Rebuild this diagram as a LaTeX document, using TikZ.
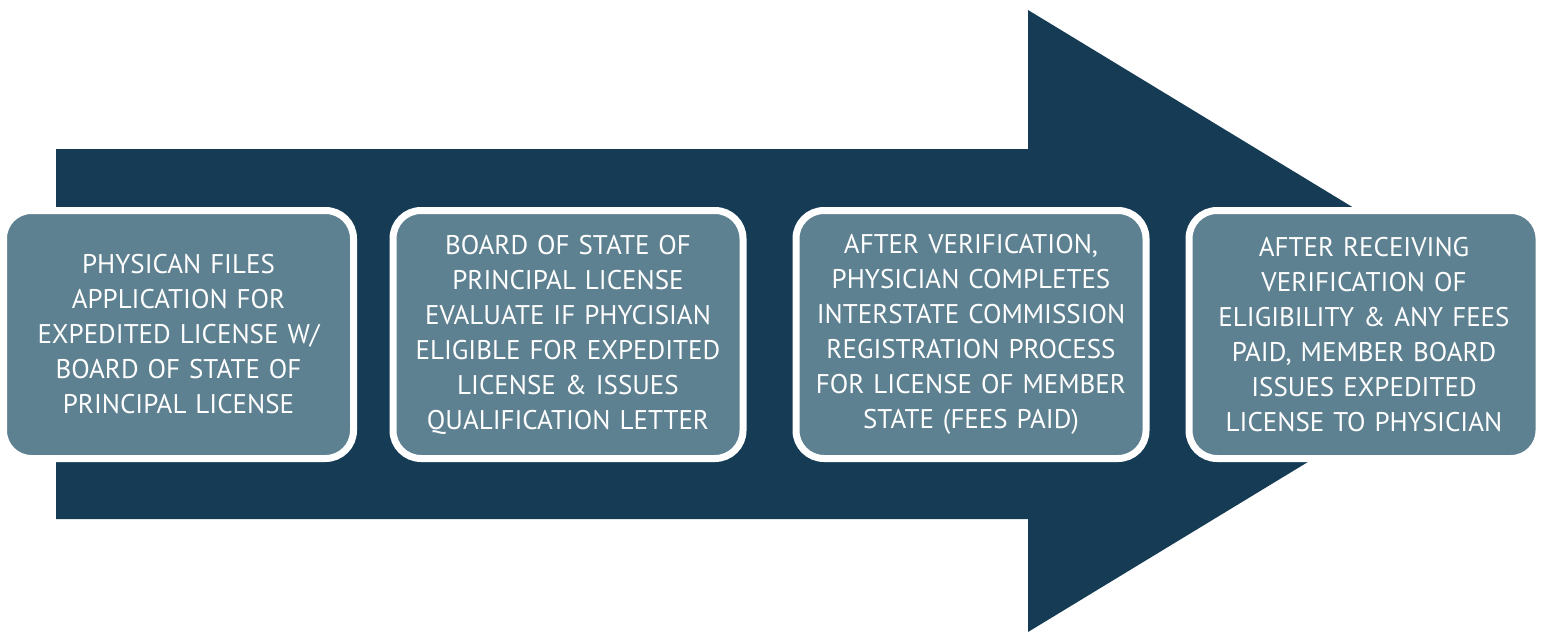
\documentclass[tikz,border=0pt]{standalone}
\usepackage{fontspec}
\setmainfont{PT Sans}
\definecolor{navy}{HTML}{163C55}
\definecolor{boxfill}{HTML}{5E8191}
\begin{document}
\begin{tikzpicture}[x=1pt,y=-1pt,
  stepbox/.style={rectangle, rounded corners=28pt, fill=boxfill, draw=white, line width=7pt,
    minimum width=350pt, minimum height=248pt, inner sep=0pt, text width=340pt, align=center,
    text=white, font=\fontsize{27}{35}\selectfont}]
\useasboundingbox (0,0) rectangle (1541,632);
\fill[navy] (56,149) -- (1028,149) -- (1028,10) -- (1540,321) -- (1028,632) -- (1028,519) -- (56,519) -- cycle;
\node[stepbox] (s1) at (178.5,334.5) {PHYSICAN FILES\\APPLICATION FOR\\EXPEDITED LICENSE W/\\BOARD OF STATE OF\\PRINCIPAL LICENSE};
\node[stepbox] (s2) at (568,334.5) {BOARD OF STATE OF\\PRINCIPAL LICENSE\\EVALUATE IF PHYCISIAN\\ELIGIBLE FOR EXPEDITED\\LICENSE \& ISSUES\\QUALIFICATION LETTER};
\node[stepbox] (s3) at (971,334.5) {AFTER VERIFICATION,\\PHYSICIAN COMPLETES\\INTERSTATE COMMISSION\\REGISTRATION PROCESS\\FOR LICENSE OF MEMBER\\STATE (FEES PAID)};
\node[stepbox] (s4) at (1364,334.5) {AFTER RECEIVING\\VERIFICATION OF\\ELIGIBILITY \& ANY FEES\\PAID, MEMBER BOARD\\ISSUES EXPEDITED\\LICENSE TO PHYSICIAN};
\end{tikzpicture}
\end{document}
